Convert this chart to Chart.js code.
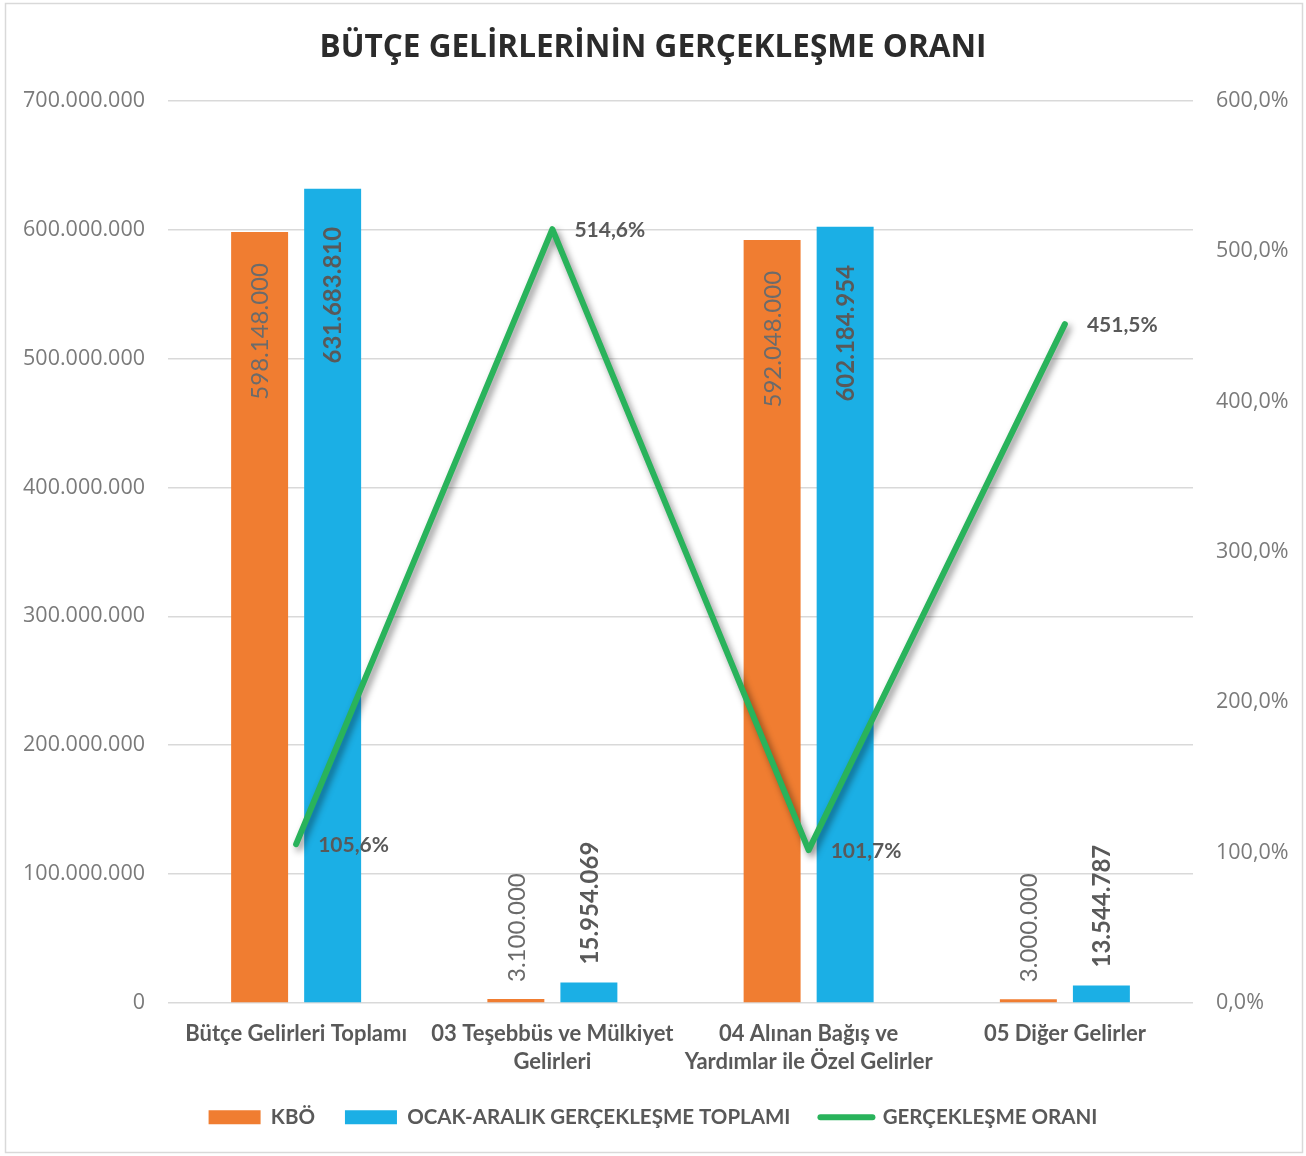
<!DOCTYPE html>
<html>
<head>
<meta charset="utf-8">
<script src="https://cdn.jsdelivr.net/npm/chart.js@4.4.1/dist/chart.umd.min.js"></script>
<style>
  body { margin: 0; background: #fff; }
</style>
</head>
<body>
<canvas id="gelirChart" width="1306" height="1156"></canvas>
<script>
var categories = [
    ['Bütçe Gelirleri Toplamı'],
    ['03 Teşebbüs ve Mülkiyet', 'Gelirleri'],
    ['04 Alınan Bağış ve', 'Yardımlar ile Özel Gelirler'],
    ['05 Diğer Gelirler']
];
var kbo = [598148000, 3100000, 592048000, 3000000];
var gerceklesme = [631683810, 15954069, 602184954, 13544787];
var oran = [105.6, 514.6, 101.7, 451.5];

var orange = '#F07D31';
var blue = '#1BAFE5';
var green = '#29B35B';
var labelGray = '#595959';

// Turkish number formats: 1.000.000 and 12,5%
function fmtNum(v) {
    return String(Math.round(v)).replace(/\B(?=(\d{3})+(?!\d))/g, '.');
}
function fmtPct(v) {
    return v.toFixed(1).replace('.', ',') + '%';
}

var labelFont = 'Lato, "Open Sans", sans-serif';

var dataLabels = {
    id: 'dataLabels',
    beforeDatasetDraw: function(chart, args) {
        if (args.index === 2) {
            var ctx = chart.ctx;
            ctx.save();
            ctx.shadowColor = 'rgba(0,0,0,0.45)';
            ctx.shadowBlur = 7;
            ctx.shadowOffsetX = 3;
            ctx.shadowOffsetY = 4;
        }
    },
    afterDatasetDraw: function(chart, args) {
        if (args.index === 2) chart.ctx.restore();
    },
    afterDatasetsDraw: function(chart) {
        var ctx = chart.ctx;
        // bar labels, rotated
        [0, 1].forEach(function(di) {
            var meta = chart.getDatasetMeta(di);
            var values = chart.data.datasets[di].data;
            meta.data.forEach(function(bar, i) {
                var v = values[i];
                ctx.save();
                ctx.translate(bar.x + 1, 0);
                ctx.rotate(-Math.PI / 2);
                ctx.fillStyle = di === 0 ? '#6b6b6b' : labelGray;
                ctx.font = (di === 0 ? 'normal' : 'bold') + ' 24px ' + labelFont;
                ctx.textBaseline = 'middle';
                if (v > 100000000) {
                    ctx.textAlign = 'right';
                    ctx.fillText(fmtNum(v), -(bar.y + (di === 0 ? 31 : 38)), 0);
                } else {
                    ctx.textAlign = 'left';
                    ctx.fillText(fmtNum(v), -(bar.y - (di === 0 ? 17 : 18)), 0);
                }
                ctx.restore();
            });
        });
        // line labels
        var lineMeta = chart.getDatasetMeta(2);
        ctx.save();
        ctx.fillStyle = labelGray;
        ctx.font = 'bold 21px ' + labelFont;
        ctx.textAlign = 'left';
        ctx.textBaseline = 'middle';
        lineMeta.data.forEach(function(pt, i) {
            ctx.fillText(fmtPct(oran[i]), pt.x + 22, pt.y + 1);
        });
        ctx.restore();
    }
};

var outerBorder = {
    id: 'outerBorder',
    beforeDraw: function(chart) {
        var ctx = chart.ctx;
        ctx.save();
        ctx.fillStyle = '#fff';
        ctx.fillRect(0, 0, chart.width, chart.height);
        ctx.strokeStyle = '#d9d9d9';
        ctx.lineWidth = 1.5;
        ctx.strokeRect(5.5, 3.5, 1297, 1149);
        ctx.restore();
    }
};

var ctx = document.getElementById('gelirChart').getContext('2d');
var gelirChart = new Chart(ctx, {
    type: 'bar',
    data: {
        labels: categories,
        datasets: [{
            label: 'KBÖ',
            data: kbo,
            backgroundColor: orange,
            yAxisID: 'y',
            order: 1
        }, {
            label: 'OCAK-ARALIK GERÇEKLEŞME TOPLAMI',
            data: gerceklesme,
            backgroundColor: blue,
            yAxisID: 'y',
            order: 1
        }, {
            type: 'line',
            label: 'GERÇEKLEŞME ORANI',
            data: oran,
            borderColor: green,
            backgroundColor: green,
            borderWidth: 6,
            borderCapStyle: 'round',
            borderJoinStyle: 'round',
            pointRadius: 0,
            tension: 0,
            yAxisID: 'y1',
            order: 0
        }]
    },
    options: {
        responsive: false,
        animation: false,
        categoryPercentage: 0.57,
        barPercentage: 0.78,
        layout: { padding: { top: 20, bottom: 19, left: 0, right: 0 } },
        plugins: {
            tooltip: { enabled: false },
            title: {
                display: true,
                text: 'BÜTÇE GELİRLERİNİN GERÇEKLEŞME ORANI',
                color: '#2b2b2b',
                font: { family: '"Open Sans", sans-serif', size: 31.5, weight: 'bold', lineHeight: 1.2 },
                padding: { top: 9, bottom: 34 }
            },
            legend: {
                position: 'bottom',
                maxHeight: 60,
                labels: {
                    usePointStyle: true,
                    pointStyleWidth: 52,
                    boxHeight: 14,
                    padding: 30,
                    color: labelGray,
                    font: { family: labelFont, size: 20.5, weight: 'bold' },
                    generateLabels: function(chart) {
                        return chart.data.datasets.map(function(ds, i) {
                            var isLine = ds.type === 'line';
                            return {
                                text: ds.label,
                                fillStyle: ds.backgroundColor,
                                strokeStyle: isLine ? green : ds.backgroundColor,
                                lineWidth: isLine ? 6 : 0,
                                lineCap: 'round',
                                pointStyle: isLine ? 'line' : 'rect',
                                fontColor: labelGray,
                                datasetIndex: i
                            };
                        });
                    }
                }
            }
        },
        scales: {
            x: {
                grid: { display: false, drawTicks: false },
                border: { display: false },
                afterFit: function(scale) { scale.height = 74; },
                ticks: {
                    color: labelGray,
                    autoSkip: false,
                    maxRotation: 0,
                    padding: 17,
                    font: { family: labelFont, size: 22, weight: 'bold', lineHeight: 1.27 }
                }
            },
            y: {
                position: 'left',
                min: 0,
                max: 700000000,
                afterFit: function(scale) { scale.width = 168; },
                grid: { color: '#d9d9d9', lineWidth: 1.5, drawTicks: false },
                border: { display: false },
                ticks: {
                    stepSize: 100000000,
                    padding: 23,
                    color: '#7a7a7a',
                    font: { family: '"Open Sans", sans-serif', size: 21.5 },
                    callback: function(v) { return fmtNum(v); }
                }
            },
            y1: {
                position: 'right',
                min: 0,
                max: 600,
                afterFit: function(scale) { scale.width = 113; },
                grid: { display: false, drawTicks: false },
                border: { display: false },
                ticks: {
                    stepSize: 100,
                    padding: 23,
                    color: '#7a7a7a',
                    font: { family: '"Open Sans", sans-serif', size: 21.5 },
                    callback: function(v) { return fmtPct(v); }
                }
            }
        }
    },
    plugins: [outerBorder, dataLabels]
});
</script>
</body>
</html>
